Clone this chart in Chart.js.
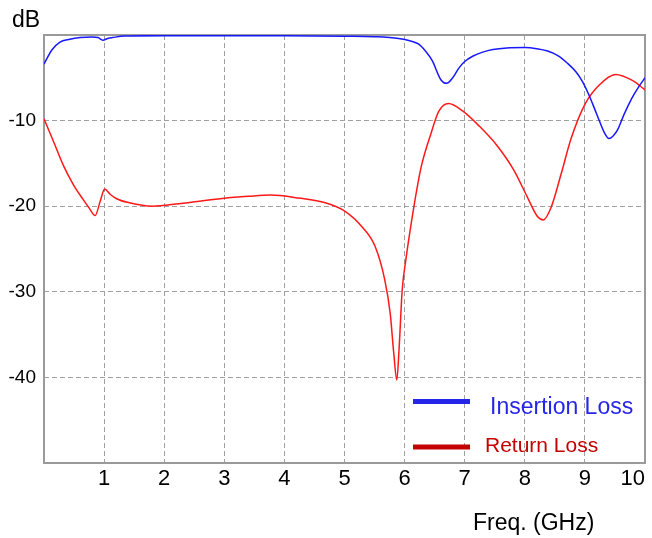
<!DOCTYPE html>
<html>
<head>
<meta charset="utf-8">
<script src="https://cdn.jsdelivr.net/npm/chart.js@4.4.0/dist/chart.umd.min.js"></script>
<style>
  html, body { margin: 0; padding: 0; background: #ffffff; }
  #wrap { width: 652px; height: 538px; position: relative; }
</style>
</head>
<body>
<div id="wrap"><canvas id="chart"></canvas></div>
<script>
// values (GHz, dB)
const insertionFreq = [0, 0.13, 0.26, 0.43, 0.6, 0.8, 0.9, 0.98, 1.06, 1.14, 1.34, 2, 3, 4, 5, 5.5, 5.9, 6.1, 6.23, 6.35, 6.46, 6.6, 6.7, 6.8, 6.9, 7.0, 7.14, 7.3, 7.47, 7.7, 8.0, 8.2, 8.38, 8.55, 8.71, 8.85, 8.96, 9.06, 9.16, 9.25, 9.33, 9.4, 9.47, 9.55, 9.65, 9.78, 9.9, 10];
const insertionDb = [-3.4, -1.75, -0.85, -0.5, -0.3, -0.22, -0.3, -0.6, -0.4, -0.3, -0.12, -0.08, -0.08, -0.1, -0.15, -0.2, -0.4, -0.7, -1.05, -1.9, -3.0, -5.2, -5.65, -5.0, -3.9, -3.1, -2.45, -2.0, -1.7, -1.52, -1.47, -1.6, -1.87, -2.4, -3.3, -4.3, -5.45, -6.9, -8.6, -10.2, -11.5, -12.1, -11.8, -11.0, -9.3, -7.4, -6.0, -5.0];

const returnFreq = [0, 0.15, 0.32, 0.49, 0.65, 0.75, 0.85, 0.94, 1.01, 1.1, 1.2, 1.42, 1.8, 2.25, 2.97, 3.4, 3.77, 4.24, 4.68, 5.01, 5.29, 5.51, 5.67, 5.76, 5.82, 5.87, 5.91, 5.96, 6.02, 6.11, 6.23, 6.29, 6.43, 6.57, 6.73, 6.97, 7.25, 7.53, 7.81, 8.04, 8.21, 8.31, 8.44, 8.61, 8.77, 9.0, 9.23, 9.51, 9.79, 10];
const returnDb = [-9.8, -12.3, -15.2, -17.5, -19.2, -20.2, -21.1, -19.3, -18.0, -18.6, -19.1, -19.6, -20.0, -19.7, -19.1, -18.85, -18.7, -19.05, -19.6, -20.6, -22.4, -24.7, -28.6, -32.5, -37.2, -40.3, -36.4, -29.8, -26.3, -22.0, -17.0, -15.0, -11.7, -8.9, -8.0, -8.9, -10.7, -12.85, -15.7, -18.9, -21.2, -21.6, -20.1, -16.1, -12.1, -8.1, -5.9, -4.6, -5.3, -6.4];

const xTickLabels = [1, 2, 3, 4, 5, 6, 7, 8, 9, 10];
const yTickLabels = [-10, -20, -30, -40];

const seriesNames = ['Insertion Loss', 'Return Loss'];
const lineColors = ['#1818ff', '#ff1818'];
const legendColors = ['#2626ea', '#c40000'];

const FONT = "'Liberation Sans', Arial, sans-serif";

const pts = (xs, ys) => xs.map((x, i) => ({ x: x, y: ys[i] }));

// frame, axis captions and the in-plot legend
const decorations = {
    id: 'decorations',
    beforeDatasetsDraw(chart) {
        const { ctx, chartArea: a } = chart;
        ctx.save();
        ctx.strokeStyle = '#9a9a9a';
        ctx.lineWidth = 2;
        ctx.strokeRect(a.left, a.top, a.right - a.left, a.bottom - a.top);
        ctx.restore();
    },
    afterDraw(chart) {
        const { ctx } = chart;
        ctx.save();
        ctx.fillStyle = '#000';
        ctx.textBaseline = 'alphabetic';
        ctx.font = '23px ' + FONT;
        ctx.fillText('dB', 12, 27);
        ctx.fillText('Freq. (GHz)', 473, 530);

        // legend
        const rows = [
            { y: 401.5, tx: 490, ty: 414, size: 23 },
            { y: 447, tx: 485, ty: 452, size: 21 }
        ];
        rows.forEach((r, i) => {
            ctx.strokeStyle = legendColors[i];
            ctx.lineWidth = 5;
            ctx.beginPath();
            ctx.moveTo(413, r.y);
            ctx.lineTo(470, r.y);
            ctx.stroke();
            ctx.fillStyle = legendColors[i];
            ctx.font = r.size + 'px ' + FONT;
            ctx.fillText(chart.data.datasets[i].label, r.tx, r.ty);
        });
        ctx.restore();
    }
};

new Chart(document.getElementById('chart'), {
    type: 'line',
    data: {
        datasets: [
            {
                label: seriesNames[0],
                data: pts(insertionFreq, insertionDb),
                borderColor: lineColors[0],
                borderWidth: 1.5,
                pointRadius: 0,
                fill: false,
                cubicInterpolationMode: 'monotone'
            },
            {
                label: seriesNames[1],
                data: pts(returnFreq, returnDb),
                borderColor: lineColors[1],
                borderWidth: 1.5,
                pointRadius: 0,
                fill: false,
                cubicInterpolationMode: 'monotone'
            }
        ]
    },
    options: {
        responsive: true,
        maintainAspectRatio: false,
        animation: false,
        layout: { padding: { top: 35, right: 7, left: 0, bottom: 0 } },
        plugins: {
            legend: { display: false },
            tooltip: { enabled: false }
        },
        scales: {
            x: {
                type: 'linear',
                min: 0,
                max: 10,
                afterFit: s => { s.height = 75; },
                ticks: {
                    stepSize: 1,
                    align: 'inner',
                    padding: 3,
                    color: '#000',
                    font: { size: 22, family: FONT },
                    callback: v => xTickLabels.includes(v) ? String(v) : ''
                },
                grid: {
                    color: '#a0a0a0',
                    lineWidth: 1,
                    drawTicks: false
                },
                border: { display: false, dash: [5, 3] }
            },
            y: {
                type: 'linear',
                min: -50,
                max: 0,
                afterFit: s => { s.width = 44; },
                ticks: {
                    stepSize: 10,
                    padding: 8,
                    color: '#000',
                    font: { size: 19, family: FONT },
                    callback: v => yTickLabels.includes(v) ? String(v) : ''
                },
                grid: {
                    color: '#a0a0a0',
                    lineWidth: 1,
                    drawTicks: false
                },
                border: { display: false, dash: [5, 3] }
            }
        }
    },
    plugins: [decorations]
});
</script>
</body>
</html>
